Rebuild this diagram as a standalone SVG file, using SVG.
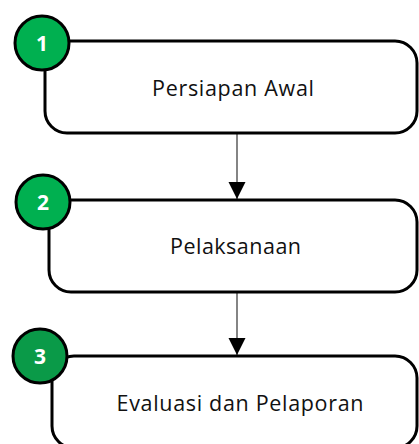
<svg xmlns="http://www.w3.org/2000/svg" width="419" height="444" viewBox="0 0 419 444">
<style>
.box{fill:#fff;stroke:#000;stroke-width:3}
.badge{stroke:#000;stroke-width:3}
.num{font-family:"Open Sans","Noto Sans",sans-serif;font-weight:bold;font-size:21px;fill:#fff;text-anchor:middle}
.lbl{font-family:"Open Sans","Noto Sans",sans-serif;font-size:21.5px;fill:#111;text-anchor:middle}
.conn{stroke:#333;stroke-width:1.2;fill:none}
</style>
<defs>
<marker id="ah" markerWidth="18" markerHeight="18" refX="17" refY="9" orient="auto" markerUnits="userSpaceOnUse">
<path d="M0,0.5 L17,9 L0,17.5 Z" fill="#000"/>
</marker>
</defs>
<g id="connectors">
<line class="conn" x1="237" y1="134" x2="237" y2="199" marker-end="url(#ah)"/>
<line class="conn" x1="237" y1="293" x2="237" y2="355" marker-end="url(#ah)"/>
</g>
<g id="step1">
<rect class="box" x="45" y="41" width="372" height="92" rx="22"/>
<text class="lbl" x="233" y="96" textLength="162" lengthAdjust="spacing">Persiapan Awal</text>
<circle class="badge" cx="42" cy="43" r="27" fill="#00b050"/>
<text class="num" x="42" y="50.5">1</text>
</g>
<g id="step2">
<rect class="box" x="49" y="200" width="368" height="92" rx="22"/>
<text class="lbl" x="235.5" y="254" textLength="131" lengthAdjust="spacing">Pelaksanaan</text>
<circle class="badge" cx="43" cy="202" r="27" fill="#00b050"/>
<text class="num" x="43" y="209.5">2</text>
</g>
<g id="step3">
<rect class="box" x="52" y="356" width="365" height="92" rx="22"/>
<text class="lbl" x="240" y="411" textLength="247" lengthAdjust="spacing">Evaluasi dan Pelaporan</text>
<circle class="badge" cx="40" cy="356" r="27" fill="#0a9a48"/>
<text class="num" x="40" y="363.5">3</text>
</g>
</svg>
